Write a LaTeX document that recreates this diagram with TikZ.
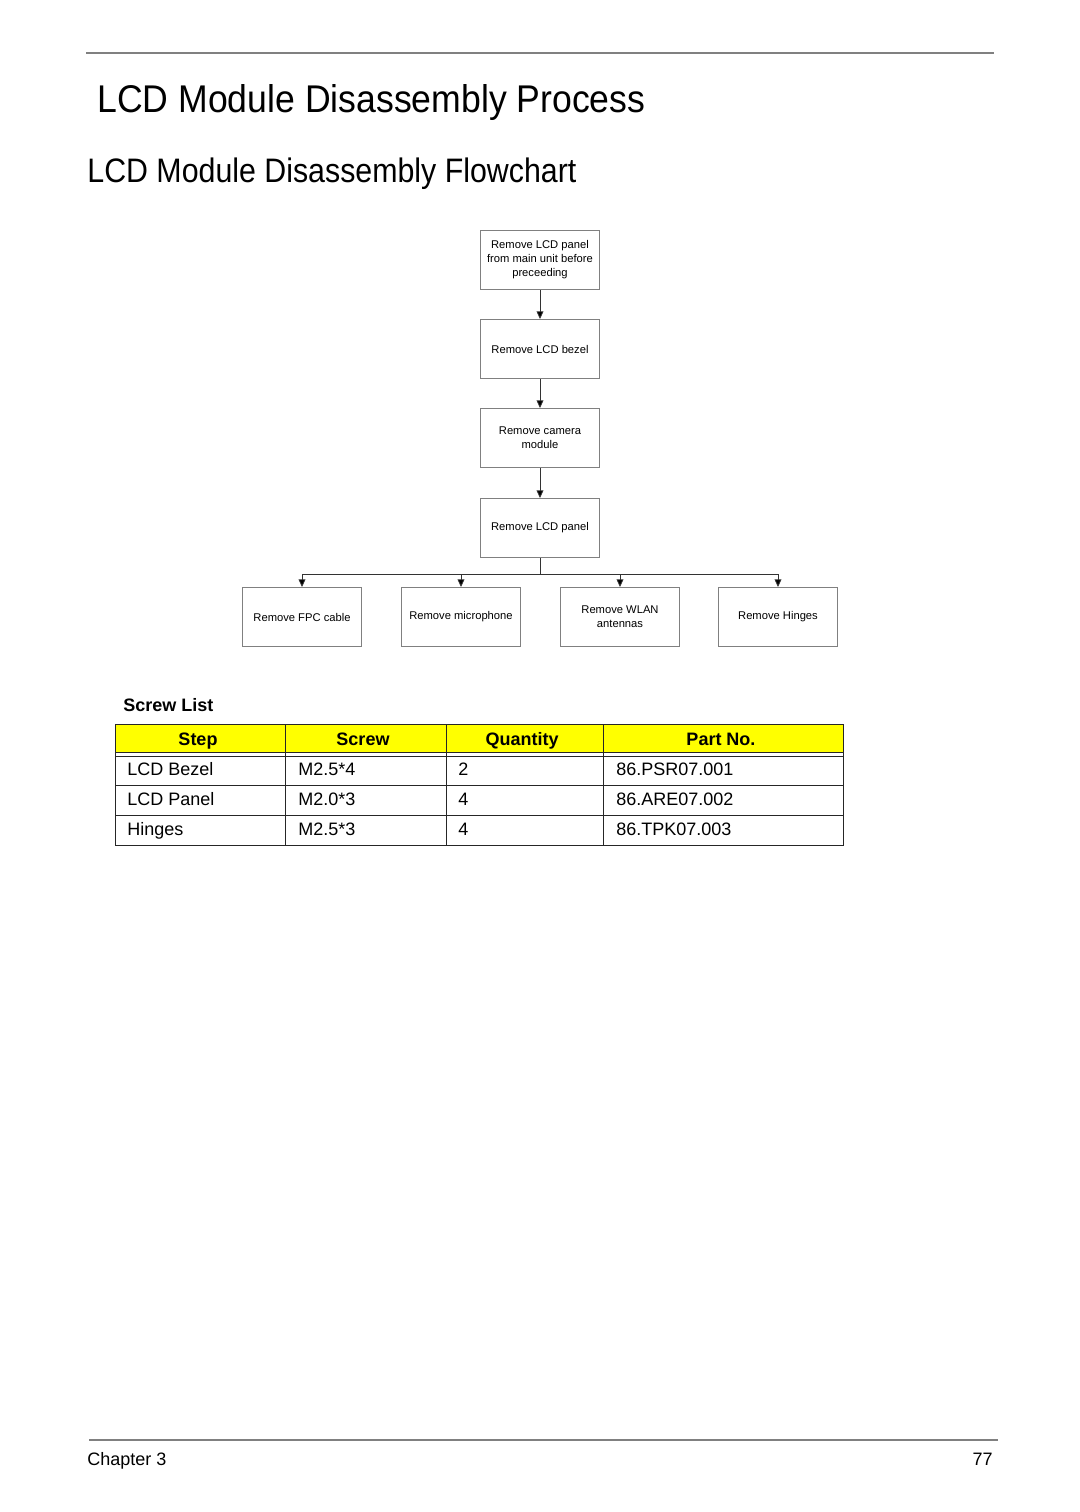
\documentclass[tikz,border=0pt]{standalone}
\usepackage{fontspec}
\setmainfont{Liberation Sans}
\usepackage{graphicx}
\usetikzlibrary{arrows.meta}
\definecolor{hdryellow}{RGB}{255,255,0}
\definecolor{rulegray}{RGB}{128,128,128}
\tikzset{
  stepbox/.style={draw=rulegray, line width=0.5pt, minimum width=59.5pt, minimum height=29.5pt,
    inner sep=1pt, align=center, font=\fontsize{5.6}{7}\selectfont},
  arr/.style={draw=black!80, line width=0.4pt, -{Triangle[width=3.4pt,length=3.8pt,fill=black]}},
  conn/.style={draw=black!80, line width=0.4pt},
  cell/.style={anchor=base west, inner sep=0pt, font=\fontsize{9}{11}\selectfont},
  hcell/.style={anchor=base, inner sep=0pt, font=\fontsize{9}{11}\selectfont\bfseries},
  tline/.style={draw=black!85, line width=0.5pt},
}
\begin{document}
\begin{tikzpicture}[x=0.5pt, y=-0.5pt]
\useasboundingbox (0,0) rectangle (1080,1512);
% header rule
\draw[rulegray, line width=1pt] (86,53) -- (994,53);
% titles
\node[anchor=base west, inner sep=0pt] (title) at (97,112)
  {\resizebox{274pt}{14pt}{\fontsize{20}{20}\selectfont LCD Module Disassembly Process}};
\node[anchor=base west, inner sep=0pt] (subtitle) at (87,182)
  {\resizebox{244.5pt}{12.3pt}{\fontsize{17}{17}\selectfont LCD Module Disassembly Flowchart}};
% flowchart
\node[stepbox] (b1) at (540,260) {Remove LCD panel\\from main unit before\\preceeding};
\node[stepbox] (b2) at (540,349) {Remove LCD bezel};
\node[stepbox] (b3) at (540,438) {Remove camera\\module};
\node[stepbox] (b4) at (540,528) {Remove LCD panel};
\node[stepbox] (c1) at (302,617) {Remove FPC cable};
\node[stepbox] (c2) at (461,617) {Remove microphone};
\node[stepbox] (c3) at (620,617) {Remove WLAN\\antennas};
\node[stepbox] (c4) at (778,617) {Remove Hinges};
\draw[arr] (b1) -- (b2);
\draw[arr] (b2) -- (b3);
\draw[arr] (b3) -- (b4);
\coordinate (j) at (540,574);
\draw[conn] (b4) -- (j);
\draw[arr] (j) -| (c1);
\draw[arr] (j) -| (c2);
\draw[arr] (j) -| (c3);
\draw[arr] (j) -| (c4);
% screw list
\node[anchor=base west, inner sep=0pt, font=\fontsize{9}{11}\selectfont\bfseries] (sl) at (123,711) {Screw List};
\fill[hdryellow] (115,724) rectangle (843,752);
\draw[tline] (115,724) rectangle (843,845);
\draw[tline] (115,752) -- (843,752);
\draw[tline] (115,756) -- (843,756);
\draw[tline] (115,785) -- (843,785);
\draw[tline] (115,815) -- (843,815);
\foreach \cx in {285,446,603} \draw[tline] (\cx,724) -- (\cx,845);
\node[hcell] (h1) at (198,745) {Step};
\node[hcell] (h2) at (363,745) {Screw};
\node[hcell] (h3) at (522,745) {Quantity};
\node[hcell] (h4) at (721,745) {Part No.};
\node[cell] (r11) at (127,775) {LCD Bezel};
\node[cell] (r12) at (298,775) {M2.5*4};
\node[cell] (r13) at (458,775) {2};
\node[cell] (r14) at (616,775) {86.PSR07.001};
\node[cell] (r21) at (127,805) {LCD Panel};
\node[cell] (r22) at (298,805) {M2.0*3};
\node[cell] (r23) at (458,805) {4};
\node[cell] (r24) at (616,805) {86.ARE07.002};
\node[cell] (r31) at (127,835) {Hinges};
\node[cell] (r32) at (298,835) {M2.5*3};
\node[cell] (r33) at (458,835) {4};
\node[cell] (r34) at (616,835) {86.TPK07.003};
% footer
\draw[rulegray, line width=1pt] (89,1440) -- (998,1440);
\node[anchor=base west, inner sep=0pt, font=\fontsize{9}{11}\selectfont] (chap) at (87,1465) {Chapter 3};
\node[anchor=base east, inner sep=0pt, font=\fontsize{9}{11}\selectfont] (pg) at (993,1465) {77};
\end{tikzpicture}
\end{document}
